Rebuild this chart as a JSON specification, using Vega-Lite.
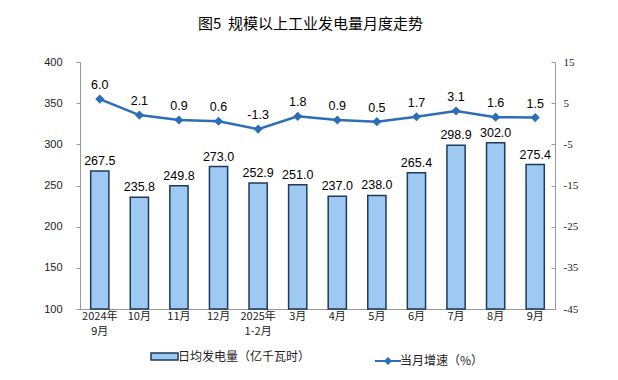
{
  "$schema": "https://vega.github.io/schema/vega-lite/v6.json",
  "width": 475,
  "height": 247,
  "autosize": {"type": "none"},
  "padding": {"left": 80, "top": 62, "right": 63, "bottom": 71},
  "background": "white",
  "title": {"text": "图5\u00a0\u00a0规模以上工业发电量月度走势", "font": "Noto Sans CJK SC", "fontSize": 15, "fontWeight": "normal", "color": "#000", "anchor": "middle", "dx": -7, "offset": 24},
  "config": {"view": {"stroke": null}, "locale": {"number": {"decimal": ".", "thousands": ",", "grouping": [3], "currency": ["$", ""], "minus": "-"}}},
  "data": {"values": [
    {"m": "2024年|9月", "v": 267.5, "g": 6.0},
    {"m": "10月", "v": 235.8, "g": 2.1},
    {"m": "11月", "v": 249.8, "g": 0.9},
    {"m": "12月", "v": 273.0, "g": 0.6},
    {"m": "2025年|1-2月", "v": 252.9, "g": -1.3},
    {"m": "3月", "v": 251.0, "g": 1.8},
    {"m": "4月", "v": 237.0, "g": 0.9},
    {"m": "5月", "v": 238.0, "g": 0.5},
    {"m": "6月", "v": 265.4, "g": 1.7},
    {"m": "7月", "v": 298.9, "g": 3.1},
    {"m": "8月", "v": 302.0, "g": 1.6},
    {"m": "9月", "v": 275.4, "g": 1.5}
  ]},
  "encoding": {
    "x": {"field": "m", "type": "nominal", "sort": null, "title": null,
      "scale": {"paddingInner": 0.54, "paddingOuter": 0.27},
      "axis": {"labelAngle": 0, "labelExpr": "split(datum.label, '|')", "labelFont": "Noto Sans CJK SC", "labelFontSize": 11, "labelColor": "#222", "domainColor": "#999", "tickColor": "#999", "tickSize": -4, "bandPosition": 0, "labelPadding": 5, "labelLineHeight": 15}}
  },
  "layer": [
    {
      "layer": [
        {
          "mark": {"type": "bar", "stroke": "#1F3A5F", "strokeWidth": 1.5},
          "encoding": {
            "y": {"field": "v", "type": "quantitative", "scale": {"domain": [100, 400], "zero": false, "nice": false},
              "axis": {"title": null, "values": [100, 150, 200, 250, 300, 350, 400], "grid": false, "labelFont": "Liberation Sans", "labelFontSize": 11, "labelColor": "#222", "domainColor": "#999", "tickColor": "#999", "tickSize": 4, "labelPadding": 14}},
            "y2": {"datum": 100},
            "fill": {"datum": "日均发电量（亿千瓦时）", "type": "nominal", "scale": {"range": ["#9DC9F3"]},
              "legend": {"title": null, "orient": "none", "legendX": 75, "legendY": 285, "symbolType": "M-1.6,-0.42L1.6,-0.42L1.6,0.42L-1.6,0.42Z", "symbolSize": 285, "symbolStrokeColor": "#1F3A5F", "symbolStrokeWidth": 1.5, "labelFont": "Noto Sans CJK SC", "labelFontSize": 12, "labelColor": "#222", "labelOffset": 4}}
          }
        },
        {
          "mark": {"type": "text", "baseline": "bottom", "dy": -3, "font": "Liberation Sans", "fontSize": 12.5, "color": "#000"},
          "encoding": {
            "y": {"field": "v", "type": "quantitative"},
            "text": {"field": "v", "type": "quantitative", "format": ".1f"}
          }
        }
      ]
    },
    {
      "layer": [
        {
          "mark": {"type": "line", "color": "#2E6DB8", "strokeWidth": 2.5, "point": {"shape": "diamond", "size": 40, "filled": true, "color": "#2E6DB8"}},
          "encoding": {
            "y": {"field": "g", "type": "quantitative", "scale": {"domain": [-45, 15], "nice": false, "zero": false},
              "axis": {"orient": "right", "title": null, "values": [-45, -35, -25, -15, -5, 5, 15], "grid": false, "labelFont": "Liberation Serif", "labelFontSize": 11, "labelColor": "#222", "domainColor": "#999", "tickColor": "#999", "tickSize": -4, "labelPadding": 12}},
            "stroke": {"datum": "当月增速（%）", "type": "nominal", "scale": {"range": ["#2E6DB8"]},
              "legend": {"title": null, "orient": "none", "legendX": 294, "legendY": 285, "symbolType": "M-1,0L1,0M-0.2,0L0,-0.2L0.2,0L0,0.2Z", "symbolSize": 676, "symbolStrokeWidth": 2, "symbolFillColor": "#2E6DB8", "labelFont": "Noto Sans CJK SC", "labelFontSize": 12, "labelColor": "#222", "labelOffset": -2}}
          }
        },
        {
          "mark": {"type": "text", "baseline": "bottom", "dy": -7, "font": "Liberation Sans", "fontSize": 12.5, "color": "#000"},
          "encoding": {
            "y": {"field": "g", "type": "quantitative"},
            "text": {"field": "g", "type": "quantitative", "format": ".1f"}
          }
        }
      ]
    }
  ],
  "resolve": {"scale": {"y": "independent"}}
}
